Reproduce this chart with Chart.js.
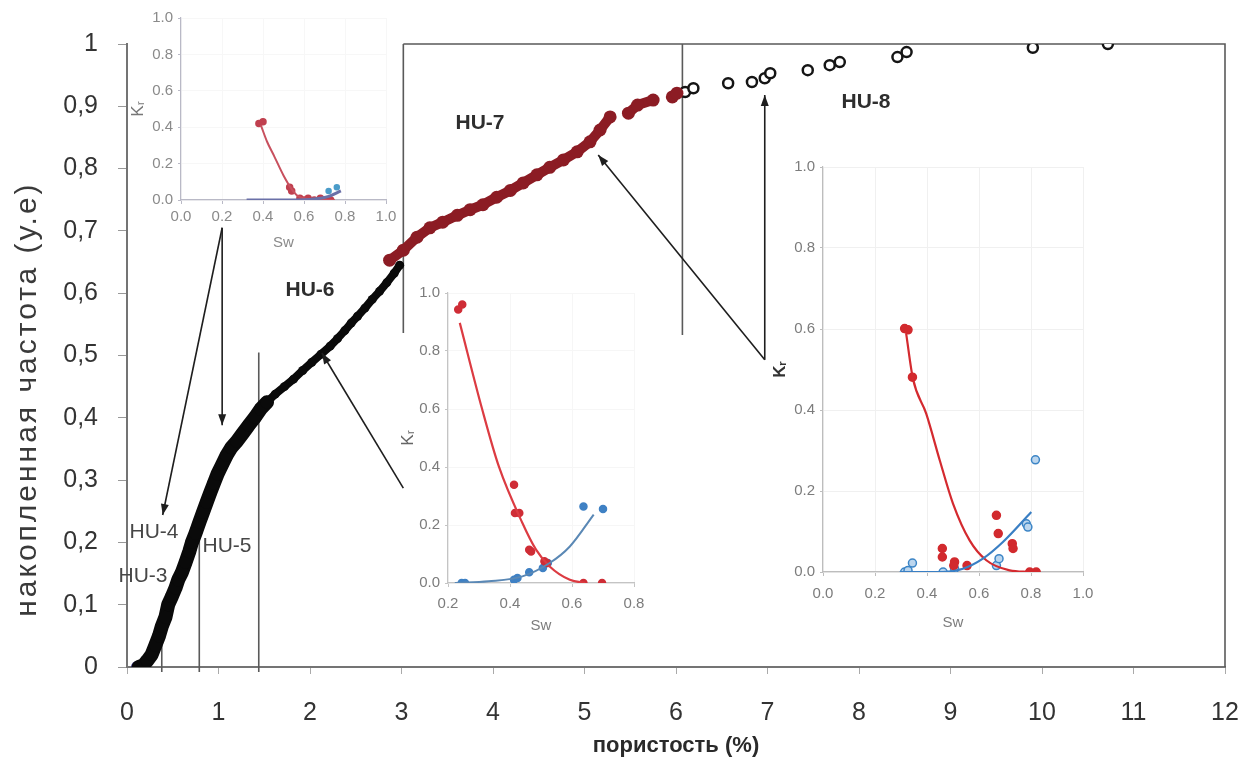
<!DOCTYPE html>
<html>
<head>
<meta charset="utf-8">
<script src="https://cdn.jsdelivr.net/npm/chart.js@4.4.0/dist/chart.umd.min.js"></script>
<style>
  html, body { margin: 0; padding: 0; background: #fff; }
  #wrap { position: relative; width: 1249px; height: 765px; overflow: hidden; }
  canvas { position: absolute; }
</style>
</head>
<body>
<div id="wrap">
  <canvas id="main"></canvas>
  <canvas id="ins1"></canvas>
  <canvas id="ins2"></canvas>
  <canvas id="ins3"></canvas>
</div>
<script>
// main curve: cumulative frequency vs porosity
const blackPorosityLow = [0.13, 0.18, 0.22, 0.27, 0.31, 0.35, 0.38, 0.42, 0.45, 0.49, 0.53, 0.56, 0.6, 0.64, 0.68, 0.71, 0.75, 0.79, 0.83, 0.87, 0.91, 0.95, 0.99, 1.04, 1.09, 1.14, 1.2, 1.26, 1.33, 1.4, 1.46, 1.53];
const blackFreqLow     = [0.0, 0.003, 0.01, 0.02, 0.035, 0.05, 0.065, 0.08, 0.1, 0.113, 0.127, 0.14, 0.152, 0.168, 0.185, 0.2, 0.215, 0.232, 0.248, 0.264, 0.28, 0.295, 0.31, 0.325, 0.34, 0.352, 0.362, 0.374, 0.388, 0.401, 0.414, 0.425];
const blackPorosityHigh = [1.53, 1.62, 1.72, 1.82, 1.92, 2.02, 2.12, 2.22, 2.3, 2.38, 2.45, 2.52, 2.6, 2.68, 2.76, 2.84, 2.92, 2.98];
const blackFreqHigh     = [0.425, 0.438, 0.45, 0.462, 0.476, 0.489, 0.502, 0.515, 0.527, 0.54, 0.552, 0.563, 0.576, 0.59, 0.603, 0.617, 0.632, 0.645];
const navyPorosity = [0.11, 0.15, 0.19];
const navyFreq     = [0.0, 0.0, 0.004];
const redPorosity = [2.87, 3.02, 3.17, 3.31, 3.45, 3.61, 3.75, 3.89, 4.04, 4.19, 4.33, 4.48, 4.62, 4.77, 4.92, 5.06, 5.17, 5.28, 5.38, 5.48, 5.58, 5.75, 5.86, 5.96, 6.01];
const redFreq     = [0.653, 0.669, 0.69, 0.705, 0.714, 0.725, 0.734, 0.742, 0.754, 0.765, 0.777, 0.79, 0.802, 0.814, 0.827, 0.843, 0.862, 0.883, null, 0.889, 0.902, 0.91, null, 0.915, 0.921];
const openPorosity = [6.1, 6.19, 6.57, 6.83, 6.97, 7.03, 7.44, 7.68, 7.79, 8.42, 8.52, 9.9, 10.72];
const openFreq     = [0.923, 0.929, 0.937, 0.939, 0.945, 0.953, 0.958, 0.966, 0.971, 0.979, 0.987, 0.994, 1.0];
const porosityTicks = [0, 1, 2, 3, 4, 5, 6, 7, 8, 9, 10, 11, 12];

// unit boundaries, arrows and labels on the main chart (data units)
const boundaryX    = [0.38, 0.79, 1.44, 3.02, 6.07];
const boundaryFrom = [-0.008, -0.008, -0.008, 0.536, 0.533];
const boundaryTo   = [0.09, 0.236, 0.505, 1.0, 1.0];
const arrowFrom = [[1.04, 0.705], [1.04, 0.705], [3.02, 0.287], [6.97, 0.493], [6.97, 0.493]];
const arrowTo   = [[0.39, 0.244], [1.04, 0.388], [2.13, 0.504], [5.15, 0.822], [6.97, 0.918]];
const unitNames = ['HU-3', 'HU-4', 'HU-5', 'HU-6', 'HU-7', 'HU-8'];
const unitX     = [0.175, 0.295, 1.093, 2.0, 3.858, 8.077];
const unitY     = [0.146, 0.217, 0.194, 0.605, 0.873, 0.907];
const unitBold  = [false, false, false, true, true, true];

// inset 1 (upper left)
const in1RedSw = [0.38, 0.40, 0.53, 0.54, 0.58, 0.6, 0.62, 0.65, 0.68, 0.7, 0.73];
const in1RedKr = [0.42, 0.43, 0.07, 0.05, 0.01, 0.0, 0.01, 0.0, 0.01, 0.0, 0.0];
const in1RedFitSw = [0.39, 0.42, 0.455, 0.5, 0.54, 0.57, 0.62, 0.68, 0.75];
const in1RedFitKr = [0.41, 0.32, 0.24, 0.135, 0.06, 0.022, 0.005, 0.0, 0.0];
const in1BlueSw = [0.72, 0.76];
const in1BlueKr = [0.05, 0.07];
const in1BlueFitSw = [0.32, 0.55, 0.65, 0.72, 0.78];
const in1BlueFitKr = [0.0, 0.0, 0.005, 0.02, 0.05];

// inset 2 (middle)
const in2RedSw = [0.233, 0.246, 0.413, 0.416, 0.43, 0.462, 0.468, 0.511, 0.519, 0.637, 0.697];
const in2RedKr = [0.943, 0.96, 0.339, 0.241, 0.241, 0.115, 0.109, 0.075, 0.069, 0.0, 0.0];
const in2RedFitSw = [0.238, 0.31, 0.364, 0.44, 0.484, 0.528, 0.593, 0.643];
const in2RedFitKr = [0.897, 0.6, 0.402, 0.207, 0.115, 0.057, 0.011, 0.0];
const in2BlueSw = [0.244, 0.255, 0.413, 0.424, 0.462, 0.506, 0.522, 0.637, 0.7];
const in2BlueKr = [0.0, 0.0, 0.011, 0.017, 0.037, 0.052, 0.069, 0.264, 0.255];
const in2BlueFitSw = [0.222, 0.331, 0.44, 0.528, 0.593, 0.67];
const in2BlueFitKr = [0.0, 0.006, 0.023, 0.069, 0.126, 0.236];

// inset 3 (right)
const in3RedSw = [0.314, 0.327, 0.344, 0.459, 0.459, 0.506, 0.503, 0.554, 0.667, 0.674, 0.728, 0.731, 0.795, 0.82];
const in3RedKr = [0.601, 0.598, 0.481, 0.058, 0.037, 0.025, 0.016, 0.016, 0.14, 0.095, 0.07, 0.058, 0.0, 0.0];
const in3RedFitSw = [0.32, 0.346, 0.397, 0.449, 0.5, 0.564, 0.628, 0.718, 0.795];
const in3RedFitKr = [0.588, 0.477, 0.391, 0.276, 0.169, 0.078, 0.029, 0.004, 0.0];
const in3BlueSw = [0.314, 0.327, 0.344, 0.462, 0.506, 0.667, 0.677, 0.782, 0.788, 0.817];
const in3BlueKr = [0.0, 0.004, 0.022, 0.0, 0.008, 0.016, 0.033, 0.119, 0.111, 0.277];
const in3BlueFitSw = [0.295, 0.462, 0.538, 0.615, 0.692, 0.801];
const in3BlueFitKr = [0.0, 0.0, 0.008, 0.033, 0.074, 0.148];

const NARROW = "'Liberation Sans Narrow', 'Arial Narrow', 'Liberation Sans', Arial, sans-serif";
const SANS = "'Liberation Sans', Arial, sans-serif";

function pts(xs, ys) {
  return xs.map((x, i) => ({ x: x, y: ys[i] }));
}

// size and place a canvas so that its plot area lands on the given box
function place(id, box, yw, xh, padT, padR) {
  const c = document.getElementById(id);
  const left = box.l - yw, top = box.t - padT;
  const w = box.r - left + padR, h = box.b - top + xh;
  c.width = w; c.height = h;
  c.style.left = left + 'px'; c.style.top = top + 'px';
  c.style.width = w + 'px'; c.style.height = h + 'px';
  return c;
}

function arrowHead(ctx, x0, y0, x1, y1) {
  const a = Math.atan2(y1 - y0, x1 - x0);
  const len = 11, half = 4;
  ctx.beginPath();
  ctx.moveTo(x1, y1);
  ctx.lineTo(x1 - len * Math.cos(a) + half * Math.sin(a), y1 - len * Math.sin(a) - half * Math.cos(a));
  ctx.lineTo(x1 - len * Math.cos(a) - half * Math.sin(a), y1 - len * Math.sin(a) + half * Math.cos(a));
  ctx.closePath();
  ctx.fill();
}

// frame, unit boundaries (under the data)
const framePlugin = {
  id: 'frame',
  beforeDatasetsDraw(chart) {
    const { ctx, scales: { x, y } } = chart;
    ctx.save();
    ctx.strokeStyle = '#5a5a5a';
    ctx.lineWidth = 1.6;
    ctx.beginPath();
    ctx.moveTo(x.getPixelForValue(boundaryX[3]), y.getPixelForValue(1));
    ctx.lineTo(x.getPixelForValue(12), y.getPixelForValue(1));
    ctx.lineTo(x.getPixelForValue(12), y.getPixelForValue(0));
    boundaryX.forEach((bx, i) => {
      ctx.moveTo(x.getPixelForValue(bx), y.getPixelForValue(boundaryFrom[i]));
      ctx.lineTo(x.getPixelForValue(bx), y.getPixelForValue(boundaryTo[i]));
    });
    ctx.stroke();
    ctx.restore();
  },
  afterDatasetsDraw(chart) {
    const { ctx, scales: { x, y } } = chart;
    ctx.save();
    // arrows
    ctx.strokeStyle = '#1e1e1e';
    ctx.fillStyle = '#1e1e1e';
    ctx.lineWidth = 1.6;
    arrowFrom.forEach((f, i) => {
      const x0 = x.getPixelForValue(f[0]), y0 = y.getPixelForValue(f[1]);
      const x1 = x.getPixelForValue(arrowTo[i][0]), y1 = y.getPixelForValue(arrowTo[i][1]);
      ctx.beginPath();
      ctx.moveTo(x0, y0);
      ctx.lineTo(x1, y1);
      ctx.stroke();
      arrowHead(ctx, x0, y0, x1, y1);
    });
    // unit names
    ctx.textAlign = 'center';
    ctx.textBaseline = 'middle';
    unitNames.forEach((name, i) => {
      ctx.font = (unitBold[i] ? 'bold ' : '') + '21px ' + NARROW;
      ctx.fillStyle = unitBold[i] ? '#2e2e2e' : '#474747';
      ctx.fillText(name, x.getPixelForValue(unitX[i]), y.getPixelForValue(unitY[i]));
    });
    // y axis title, spaced out like the original
    ctx.translate(28, y.getPixelForValue(0.43));
    ctx.rotate(-Math.PI / 2);
    ctx.font = '30px ' + SANS;
    ctx.letterSpacing = '3px';
    ctx.fillStyle = '#3a3a3a';
    ctx.fillText('накопленная частота (у.е)', 0, 0);
    ctx.restore();
  }
};

const mainBox = { l: 127, t: 44, r: 1225, b: 667 };
const mainCanvas = place('main', mainBox, 127, 98, 44, 44);

new Chart(mainCanvas, {
  type: 'scatter',
  data: {
    datasets: [
      {
        data: pts(blackPorosityLow, blackFreqLow),
        showLine: true, borderColor: '#0a0a0a', borderWidth: 14,
        pointRadius: 6.5, pointBackgroundColor: '#0a0a0a', pointBorderWidth: 0,
        borderCapStyle: 'round', borderJoinStyle: 'round', tension: 0
      },
      {
        data: pts(blackPorosityHigh, blackFreqHigh),
        showLine: true, borderColor: '#0a0a0a', borderWidth: 8,
        pointRadius: 4.5, pointBackgroundColor: '#0a0a0a', pointBorderWidth: 0,
        borderCapStyle: 'round', borderJoinStyle: 'round', tension: 0
      },
      {
        data: pts(navyPorosity, navyFreq),
        pointRadius: 6, pointBackgroundColor: '#25236e', pointBorderWidth: 0
      },
      {
        data: pts(redPorosity, redFreq),
        showLine: true, spanGaps: false, borderColor: '#8c1c24', borderWidth: 10,
        pointRadius: 6.5, pointBackgroundColor: '#8c1c24', pointBorderWidth: 0,
        borderCapStyle: 'round', borderJoinStyle: 'round'
      },
      {
        data: pts(openPorosity, openFreq),
        pointRadius: 5, pointBackgroundColor: '#ffffff', pointBorderColor: '#151515', pointBorderWidth: 2.5
      }
    ]
  },
  options: {
    responsive: false,
    animation: false,
    layout: { padding: { left: 0, top: 44, right: 44, bottom: 0 } },
    plugins: { legend: { display: false }, tooltip: { enabled: false } },
    scales: {
      x: {
        type: 'linear', min: 0, max: 12,
        afterBuildTicks: s => { s.ticks = porosityTicks.map(v => ({ value: v })); },
        ticks: { color: '#333', font: { size: 25, family: NARROW }, padding: 24, maxRotation: 0 },
        grid: { drawOnChartArea: false, tickLength: 7, tickColor: '#aaa' },
        border: { color: '#747474', width: 2 },
        title: { display: true, text: 'пористость (%)', color: '#2a2a2a', font: { size: 22, weight: 'bold', family: NARROW }, padding: { top: 0, bottom: 6 } },
        afterFit: s => { s.height = 98; }
      },
      y: {
        min: 0, max: 1,
        ticks: {
          stepSize: 0.1, color: '#333', font: { size: 25, family: NARROW }, padding: 20,
          callback: v => (v < 0.001 ? '0' : v > 0.999 ? '1' : v.toFixed(1).replace('.', ','))
        },
        grid: { drawOnChartArea: false, tickLength: 9, tickColor: '#999' },
        border: { color: '#747474', width: 2 },
        afterFit: s => { s.width = 127; }
      }
    }
  },
  plugins: [framePlugin]
});

// relative permeability insets
function insetChart(id, box, xMin, o, series) {
  const cv = place(id, box, o.yw, o.xh, 20, 28);
  const tickFont = { size: 15, family: SANS };
  return new Chart(cv, {
    type: 'scatter',
    data: { datasets: series },
    options: {
      responsive: false,
      animation: false,
      layout: { padding: { left: 0, top: 20, right: 28, bottom: 0 } },
      plugins: { legend: { display: false }, tooltip: { enabled: false } },
      scales: {
        x: {
          type: 'linear', min: xMin, max: o.xMax,
          ticks: { stepSize: 0.2, color: o.tick, font: tickFont, padding: o.xPad, maxRotation: 0, callback: v => v.toFixed(1) },
          grid: { color: o.grid, tickLength: 4, tickColor: o.axis },
          border: { color: o.axis, width: 1.2 },
          title: { display: true, text: 'Sw', color: o.tick, font: { size: 15, family: SANS }, padding: { top: 0, bottom: o.swPad } },
          afterFit: s => { s.height = o.xh; }
        },
        y: {
          min: 0, max: 1,
          ticks: { stepSize: 0.2, color: o.tick, font: tickFont, padding: 5, callback: v => v.toFixed(1) },
          grid: { color: o.grid, tickLength: 3, tickColor: o.axis },
          border: { color: o.axis, width: 1.2 },
          title: { display: true, text: 'Kᵣ', color: o.krColor, font: { size: 17, weight: o.krWeight, family: SANS }, padding: { top: o.krPad, bottom: 0 } },
          afterFit: s => { s.width = o.yw; }
        }
      }
    }
  });
}

function fit(xs, ys, color, width) {
  return { data: pts(xs, ys), showLine: true, borderColor: color, borderWidth: width, pointRadius: 0, cubicInterpolationMode: 'monotone' };
}
function dots(xs, ys, fill, border, r) {
  return { data: pts(xs, ys), pointRadius: r, pointBackgroundColor: fill, pointBorderColor: border, pointBorderWidth: 1.5 };
}

insetChart('ins1', { l: 181, t: 18, r: 386, b: 200 }, 0,
  { xMax: 1, yw: 55, xh: 55, xPad: 4, swPad: 3, krPad: 2, tick: '#8a8a8a', axis: '#b9b9c6', grid: '#f7f7f7', krColor: '#777', krWeight: 'normal' },
  [
    fit(in1BlueFitSw, in1BlueFitKr, '#6a70a8', 3),
    fit(in1RedFitSw, in1RedFitKr, '#c8505e', 2),
    dots(in1RedSw, in1RedKr, '#c0404f', '#c0404f', 3),
    dots(in1BlueSw, in1BlueKr, '#4b9cc9', '#4b9cc9', 2.5)
  ]);

insetChart('ins2', { l: 448, t: 293, r: 634, b: 583 }, 0.2,
  { xMax: 0.8, yw: 50, xh: 55, xPad: 8, swPad: 3, krPad: 0, tick: '#7c7c7c', axis: '#c4c4c4', grid: '#f6f6f6', krColor: '#666', krWeight: 'normal' },
  [
    fit(in2BlueFitSw, in2BlueFitKr, '#5a88b5', 2),
    fit(in2RedFitSw, in2RedFitKr, '#dc3b42', 2.2),
    dots(in2RedSw, in2RedKr, '#cf2d36', '#cf2d36', 3.5),
    dots(in2BlueSw, in2BlueKr, '#3f81c4', '#3f81c4', 3.5)
  ]);

insetChart('ins3', { l: 823, t: 167, r: 1083, b: 572 }, 0,
  { xMax: 1, yw: 55, xh: 60, xPad: 9, swPad: 0, krPad: 2, tick: '#7c7c7c', axis: '#bdbdbd', grid: '#f0f0f0', krColor: '#333', krWeight: 'bold' },
  [
    fit(in3BlueFitSw, in3BlueFitKr, '#3a7fc4', 2.2),
    fit(in3RedFitSw, in3RedFitKr, '#d42a2f', 2.2),
    dots(in3RedSw, in3RedKr, '#d22a2e', '#d22a2e', 4),
    dots(in3BlueSw, in3BlueKr, '#bcd6ee', '#3c85c6', 4)
  ]);
</script>
</body>
</html>
